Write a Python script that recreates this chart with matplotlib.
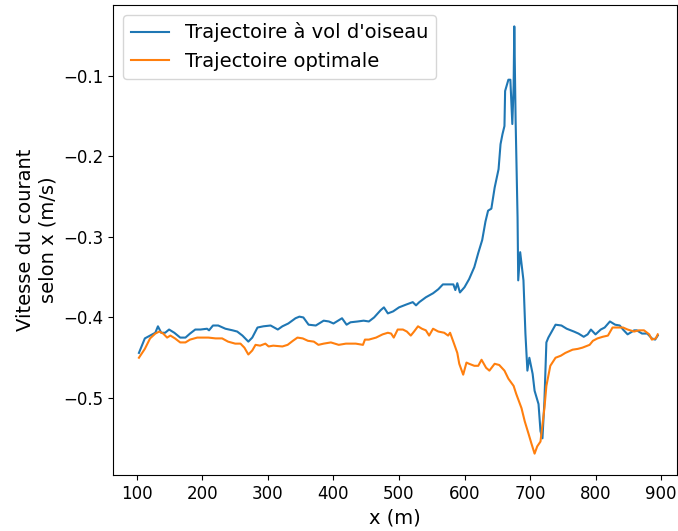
import numpy as np
from matplotlib import pyplot as plt
import matplotlib as mpl

# blue: straight-line path, orange: optimal path
x_oiseau = [103, 112, 120, 128, 132, 137, 143, 149, 157, 166, 174, 181, 189, 197, 207, 210,
            216, 224, 235, 246, 253, 261, 270, 276, 284, 293, 304, 315, 322, 331, 342, 348,
            354, 362, 373, 385, 393, 400, 413, 420, 426, 437, 446, 454, 462, 472, 477, 483,
            491, 500, 511, 521, 526, 531, 541, 552, 560, 567, 575, 583, 586, 589, 593, 600,
            607, 615, 621, 627, 632, 636, 641, 646, 652, 655, 658, 661, 662, 667, 670, 673,
            675, 676, 678, 681, 682, 685, 690, 693, 696, 699, 704, 707, 713, 716, 719, 722,
            725, 728, 739, 748, 756, 767, 774, 782, 788, 793, 800, 808, 814, 822, 830, 837,
            842, 849, 859, 863, 871, 879, 886, 891, 895]
v_oiseau = [-0.444, -0.426, -0.4225, -0.419, -0.411, -0.419, -0.419, -0.415, -0.419, -0.425,
            -0.425, -0.420, -0.415, -0.415, -0.414, -0.416, -0.410, -0.410, -0.414, -0.416,
            -0.4175, -0.4225, -0.430, -0.425, -0.4125, -0.411, -0.410, -0.415, -0.411, -0.4075,
            -0.401, -0.399, -0.400, -0.409, -0.410, -0.404, -0.405, -0.4075, -0.401, -0.409,
            -0.406, -0.405, -0.404, -0.405, -0.400, -0.391, -0.3875, -0.395, -0.3925, -0.3875,
            -0.384, -0.381, -0.385, -0.381, -0.375, -0.370, -0.365, -0.359, -0.359, -0.359,
            -0.366, -0.3575, -0.369, -0.3625, -0.3525, -0.3375, -0.320, -0.304, -0.281, -0.2675,
            -0.265, -0.239, -0.216, -0.185, -0.1725, -0.1625, -0.119, -0.105, -0.105, -0.160,
            -0.1125, -0.0388, -0.154, -0.276, -0.354, -0.319, -0.354, -0.420, -0.466, -0.450,
            -0.470, -0.491, -0.5075, -0.541, -0.550, -0.504, -0.431, -0.425, -0.409, -0.410,
            -0.414, -0.4175, -0.420, -0.424, -0.421, -0.415, -0.421, -0.415, -0.4125, -0.405,
            -0.409, -0.410, -0.415, -0.421, -0.416, -0.416, -0.420, -0.420, -0.426, -0.4275,
            -0.4225]

x_optimal = [103, 112, 120, 128, 134, 140, 146, 151, 158, 166, 174, 181, 192, 201, 209, 220,
             230, 239, 250, 258, 264, 270, 276, 281, 288, 296, 301, 308, 322, 330, 338, 345,
             353, 361, 370, 377, 385, 396, 408, 419, 426, 434, 445, 448, 454, 465, 475, 483,
             488, 492, 498, 506, 512, 518, 523, 529, 535, 541, 546, 552, 560, 569, 575, 578,
             584, 589, 592, 598, 603, 607, 615, 621, 626, 633, 638, 646, 653, 661, 667, 675,
             679, 687, 692, 698, 702, 707, 711, 716, 722, 725, 731, 739, 747, 754, 765, 773,
             780, 791, 796, 803, 811, 819, 826, 833, 842, 849, 859, 866, 874, 882, 886, 892,
             895]
v_optimal = [-0.450, -0.439, -0.426, -0.420, -0.4175, -0.420, -0.425, -0.4225, -0.426, -0.431,
             -0.431, -0.4275, -0.425, -0.425, -0.425, -0.426, -0.426, -0.430, -0.4325, -0.4325,
             -0.4375, -0.446, -0.441, -0.434, -0.435, -0.4325, -0.436, -0.435, -0.436, -0.434,
             -0.429, -0.425, -0.426, -0.429, -0.430, -0.434, -0.4325, -0.431, -0.434, -0.4325,
             -0.4325, -0.4325, -0.434, -0.4275, -0.4275, -0.425, -0.421, -0.419, -0.420, -0.425,
             -0.415, -0.415, -0.4175, -0.4225, -0.4175, -0.411, -0.414, -0.416, -0.4225, -0.414,
             -0.4175, -0.419, -0.4225, -0.419, -0.4325, -0.444, -0.4575, -0.471, -0.456, -0.4575,
             -0.460, -0.460, -0.4525, -0.4625, -0.466, -0.4575, -0.459, -0.466, -0.476, -0.485,
             -0.495, -0.5125, -0.529, -0.545, -0.556, -0.569, -0.560, -0.554, -0.5125, -0.485,
             -0.460, -0.450, -0.4475, -0.444, -0.440, -0.439, -0.4375, -0.434, -0.429, -0.426,
             -0.424, -0.4225, -0.4125, -0.4125, -0.4125, -0.415, -0.4175, -0.416, -0.416, -0.421,
             -0.4275, -0.426, -0.421]

mpl.rcParams.update({
    'font.size': 12,
    'axes.labelsize': 14,
    'legend.fontsize': 14,
})

fig = plt.figure(figsize=(6.78, 5.31), dpi=100)
ax = fig.add_axes([113 / 678, 1 - 475 / 531, (677 - 113) / 678, (475 - 5) / 531])

ax.plot(x_oiseau, v_oiseau, label="Trajectoire à vol d'oiseau")
ax.plot(x_optimal, v_optimal, label='Trajectoire optimale')

ax.set_xlim(63.4, 924.4)
ax.set_xticks(range(100, 1000, 100))
ax.set_yticks([-0.5, -0.4, -0.3, -0.2, -0.1])
ax.set_xlabel('x (m)')
ax.set_ylabel('Vitesse du courant\nselon x (m/s)')
ax.legend(loc='upper left')

plt.savefig('out.png', dpi=100)
